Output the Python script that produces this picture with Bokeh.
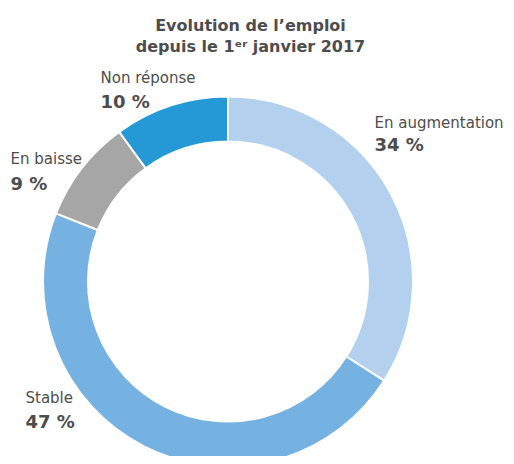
import math
from bokeh.plotting import figure
from bokeh.models import Range1d
from bokeh.core.properties import value
from bokeh.embed import file_html
from bokeh.resources import INLINE

categories = ["En augmentation", "Stable", "En baisse", "Non réponse"]
values = [34, 47, 9, 10]
colors = ["#B3D0EE", "#75B1E1", "#A6A6A6", "#2599D6"]
pct_labels = ["34 %", "47 %", "9 %", "10 %"]

W, H = 506, 456
p = figure(width=W, height=H, output_backend="svg", toolbar_location=None,
           x_range=Range1d(0, W), y_range=Range1d(0, H), min_border=0)
p.axis.visible = False
p.grid.visible = False
p.outline_line_color = None
p.background_fill_color = "white"

# picture y (from top) -> data y
def Y(y):
    return H - y

cx, cy = 227.5, Y(281)
total = sum(values)
starts, ends = [], []
acc = 0
for v in values:
    a0 = math.pi / 2 - 2 * math.pi * acc / total
    acc += v
    a1 = math.pi / 2 - 2 * math.pi * acc / total
    starts.append(a0)
    ends.append(a1)

p.annular_wedge(x=[cx] * 4, y=[cy] * 4, inner_radius=140, outer_radius=185,
                start_angle=starts, end_angle=ends, direction="clock",
                fill_color=colors, line_color="white", line_width=2)

txt = "#4D4D4D"
font = value("DejaVu Sans")
p.text(x=[250, 250], y=[Y(25), Y(46)],
       text=["Evolution de l\u2019emploi", "depuis le 1\u1d49\u02b3 janvier 2017"],
       text_align="center", text_baseline="middle", text_font=font,
       text_font_size="16px", text_font_style="bold", text_color=txt)

name_x = [374, 25, 10, 100]
name_y = [122, 397, 158, 77]
pct_y = [144, 421, 183, 101]
p.text(x=name_x, y=[Y(v) for v in name_y], text=categories,
       text_align="left", text_baseline="middle", text_font=font,
       text_font_size="15px", text_color=txt)
p.text(x=name_x, y=[Y(v) for v in pct_y], text=pct_labels,
       text_align="left", text_baseline="middle", text_font=font,
       text_font_size="18px", text_font_style="bold", text_color=txt)

open("out.html", "w").write(file_html(p, INLINE))
